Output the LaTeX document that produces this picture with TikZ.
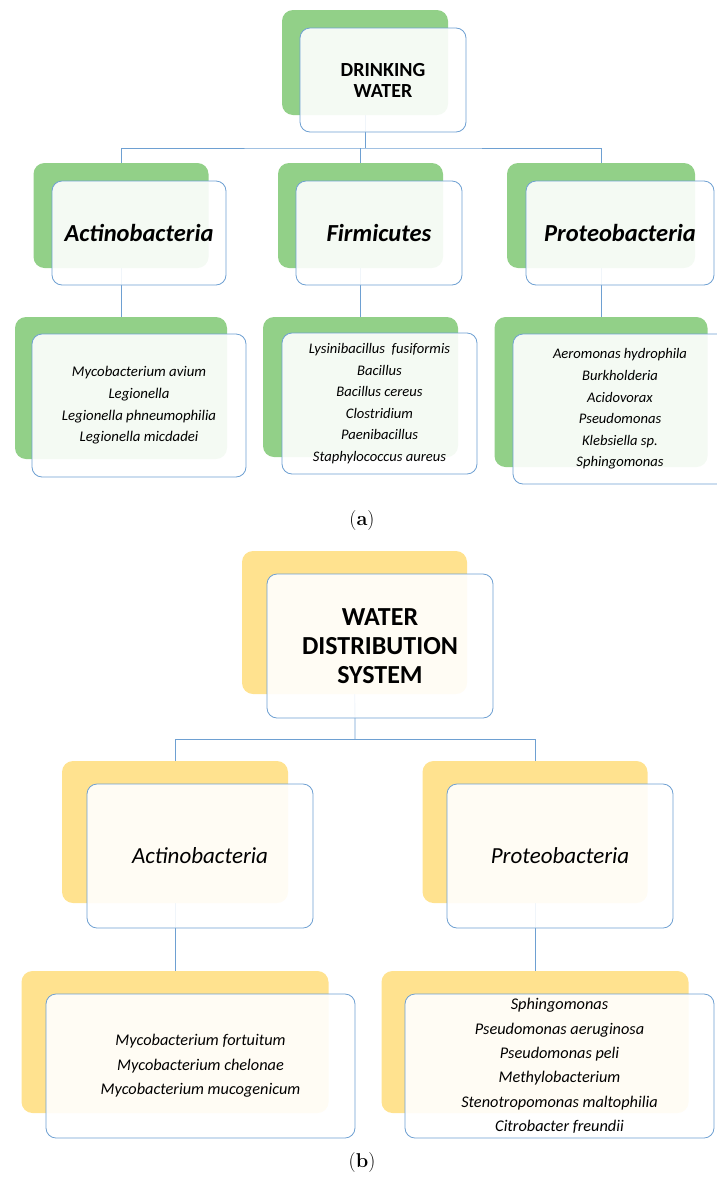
\documentclass[tikz,border=0pt]{standalone}
\usepackage{fontspec}
\newfontfamily\calibri{Carlito}
\usetikzlibrary{backgrounds}

\definecolor{leaf}{RGB}{146,208,136}
\definecolor{gold}{RGB}{255,226,143}
\definecolor{rim}{RGB}{110,160,210}

\tikzset{
  base/.style={rectangle, rounded corners=11pt, inner sep=0pt},
  card/.style={rectangle, rounded corners=10pt, draw=rim, line width=0.8pt,
    fill=white, fill opacity=0.9, text opacity=1, inner sep=0pt, align=center},
  conn/.style={draw=rim, line width=0.8pt}
}

\begin{document}
\begin{tikzpicture}[x=1pt, y=-1pt]
        \useasboundingbox (0,0) rectangle (716,1189);

        % (a) drinking water
        \node[base, fill=leaf, minimum width=166, minimum height=105] (dwb) at (365,62.5) {};
        \node[card, minimum width=166, minimum height=104,
              font=\calibri\bfseries\fontsize{20}{21}\selectfont] (dw) at (383,80) {DRINKING\\WATER};

        \node[base, fill=leaf, minimum width=175, minimum height=105] (actb) at (121,215.5) {};
        \node[card, minimum width=174, minimum height=104,
              font=\calibri\bfseries\itshape\fontsize{24.5}{26}\selectfont] (act) at (139,233) {Actinobacteria};
        \node[base, fill=leaf, minimum width=165, minimum height=105] (firb) at (360.5,215.5) {};
        \node[card, minimum width=166, minimum height=104,
              font=\calibri\bfseries\itshape\fontsize{24.5}{26}\selectfont] (fir) at (379,233) {Firmicutes};
        \node[base, fill=leaf, minimum width=188, minimum height=105] (prob) at (601,215.5) {};
        \node[card, minimum width=188, minimum height=104,
              font=\calibri\bfseries\itshape\fontsize{24.5}{26}\selectfont] (pro) at (620,233) {Proteobacteria};

        \node[base, fill=leaf, minimum width=212, minimum height=142] (actlb) at (121,388) {};
        \node[card, minimum width=214, minimum height=143,
              font=\calibri\itshape\fontsize{14.8}{21.6}\selectfont] (actl) at (139,405.5)
              {Mycobacterium avium\\Legionella\\Legionella phneumophilia\\Legionella micdadei};
        \node[base, fill=leaf, minimum width=195, minimum height=140] (firlb) at (360.5,387) {};
        \node[card, minimum width=195, minimum height=141,
              font=\calibri\itshape\fontsize{14.6}{21.6}\selectfont] (firl) at (379.5,403.5)
              {Lysinibacillus\ \ fusiformis\\Bacillus\\Bacillus cereus\\Clostridium\\Paenibacillus\\Staphylococcus aureus};
        \node[base, fill=leaf, minimum width=213, minimum height=150] (prolb) at (601,392) {};
        \node[card, minimum width=214, minimum height=150,
              font=\calibri\itshape\fontsize{14.6}{21.6}\selectfont] (prol) at (620,409)
              {Aeromonas hydrophila\\Burkholderia\\Acidovorax\\Pseudomonas\\Klebsiella sp.\\Sphingomonas};

        \coordinate (busa) at (365,148);

        \node (capa) at (362,521) {\fontsize{20}{22}\selectfont(\textbf{a})};

        % (b) water distribution system
        \node[base, fill=gold, minimum width=225, minimum height=143] (wdsb) at (354.5,622.5) {};
        \node[card, minimum width=226, minimum height=144,
              font=\calibri\bfseries\fontsize{26}{29}\selectfont] (wds) at (380,646) {WATER\\DISTRIBUTION\\SYSTEM};

        \node[base, fill=gold, minimum width=226, minimum height=142] (actbb) at (175,832) {};
        \node[card, minimum width=226, minimum height=144,
              font=\calibri\itshape\fontsize{23}{25}\selectfont] (actc) at (200,856) {Actinobacteria};
        \node[base, fill=gold, minimum width=225, minimum height=142] (probb) at (535,832) {};
        \node[card, minimum width=226, minimum height=144,
              font=\calibri\itshape\fontsize{23}{25}\selectfont] (proc) at (560,856) {Proteobacteria};

        \node[base, fill=gold, minimum width=307, minimum height=142] (actlbb) at (175,1042) {};
        \node[card, minimum width=309, minimum height=144,
              font=\calibri\itshape\fontsize{16.3}{24.4}\selectfont] (actlc) at (200.5,1066)
              {Mycobacterium fortuitum\\Mycobacterium chelonae\\Mycobacterium mucogenicum};
        \node[base, fill=gold, minimum width=307, minimum height=142] (prolbb) at (535,1042) {};
        \node[card, minimum width=309, minimum height=144,
              font=\calibri\itshape\fontsize{16.3}{24.4}\selectfont] (prolc) at (559.5,1066)
              {Sphingomonas\\Pseudomonas aeruginosa\\Pseudomonas peli\\Methylobacterium\\Stenotropomonas maltophilia\\Citrobacter freundii};

        \coordinate (busb) at (355,739);

        \node (capb) at (362,1162) {\fontsize{20}{22}\selectfont(\textbf{b})};

        \begin{scope}[on background layer]
          \draw[conn] (dwb) -- (busa);
          \draw[conn] (actb) |- (busa) -| (prob);
          \draw[conn] (firb) -- (firb |- busa);
          \draw[conn] (actb) -- (actlb);
          \draw[conn] (firb) -- (firlb);
          \draw[conn] (prob) -- (prolb);

          \draw[conn] (wdsb) -- (busb);
          \draw[conn] (actbb) |- (busb) -| (probb);
          \draw[conn] (actbb) -- (actlbb);
          \draw[conn] (probb) -- (prolbb);
        \end{scope}
      \end{tikzpicture}
\end{document}
